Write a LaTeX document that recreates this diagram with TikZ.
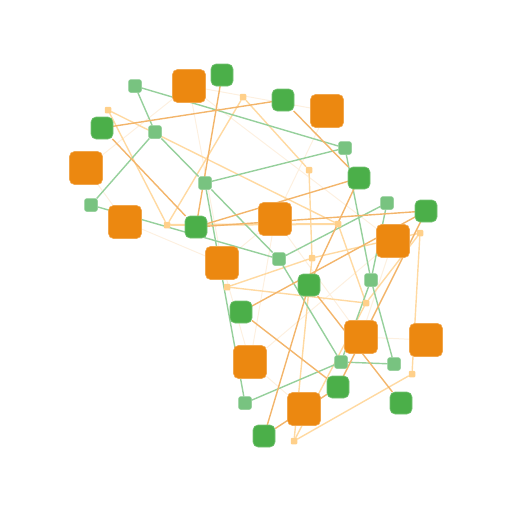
\documentclass[tikz,border=0pt]{standalone}
\usepackage{tikz}
\usetikzlibrary{backgrounds}
\definecolor{nodeorange}{HTML}{EC8810}
\definecolor{nodegreen}{HTML}{4BAF49}
\definecolor{nodemint}{HTML}{78C380}
\definecolor{nodepale}{HTML}{FFD08A}
\tikzstyle{bigbox} = [draw=nodeorange!75!white, fill=nodeorange, line width=0.6pt, rounded corners=5pt, minimum size=33pt, inner sep=0pt, outer sep=0pt]
\tikzstyle{midbox} = [draw=nodegreen!75!white, fill=nodegreen, line width=0.6pt, rounded corners=5pt, minimum size=22pt, inner sep=0pt, outer sep=0pt]
\tikzstyle{smallbox} = [draw=nodemint!80!white, fill=nodemint, line width=0.5pt, rounded corners=2.5pt, minimum size=13pt, inner sep=0pt, outer sep=0pt]
\tikzstyle{dotbox} = [fill=nodepale, rounded corners=1pt, minimum size=6.5pt, inner sep=0pt, outer sep=0pt]
\tikzstyle{faintline} = [draw, color=nodeorange!13!white, line width=1pt]
\tikzstyle{paleline} = [draw, color=nodepale!80!white, line width=1.4pt]
\tikzstyle{greenline} = [draw, color=nodemint!78!white, line width=1.4pt]
\tikzstyle{orangeline} = [draw, color=nodeorange!62!white, line width=1.4pt]

\begin{document}
\begin{tikzpicture}[x=1pt,y=-1pt]
 \useasboundingbox (0,0) rectangle (512,512);
 % large orange
 \node [bigbox] (O1) at (189,86) {};
 \node [bigbox] (O2) at (327,111) {};
 \node [bigbox] (O3) at (86,168) {};
 \node [bigbox] (O4) at (125,222) {};
 \node [bigbox] (O5) at (275,219) {};
 \node [bigbox] (O6) at (222,263) {};
 \node [bigbox] (O7) at (393,241) {};
 \node [bigbox] (O8) at (361,337) {};
 \node [bigbox] (O9) at (426,340) {};
 \node [bigbox] (O10) at (250,362) {};
 \node [bigbox] (O11) at (304,409) {};
 % green
 \node [midbox] (G1) at (222,75) {};
 \node [midbox] (G2) at (283,100) {};
 \node [midbox] (G3) at (102,128) {};
 \node [midbox] (G4) at (359,178) {};
 \node [midbox] (G5) at (196,227) {};
 \node [midbox] (G6) at (426,211) {};
 \node [midbox] (G7) at (309,285) {};
 \node [midbox] (G8) at (241,312) {};
 \node [midbox] (G9) at (338,387) {};
 \node [midbox] (G10) at (401,403) {};
 \node [midbox] (G11) at (264,436) {};
 % light green
 \node [smallbox] (L1) at (135,86) {};
 \node [smallbox] (L2) at (155,132) {};
 \node [smallbox] (L3) at (205,183) {};
 \node [smallbox] (L4) at (345,148) {};
 \node [smallbox] (L5) at (91,205) {};
 \node [smallbox] (L6) at (387,203) {};
 \node [smallbox] (L7) at (279,259) {};
 \node [smallbox] (L8) at (371,280) {};
 \node [smallbox] (L9) at (341,362) {};
 \node [smallbox] (L10) at (394,364) {};
 \node [smallbox] (L11) at (245,403) {};
 % pale dots
 \node [dotbox] (P1) at (108,110) {};
 \node [dotbox] (P2) at (243,97) {};
 \node [dotbox] (P3) at (309,170) {};
 \node [dotbox] (P4) at (167,225) {};
 \node [dotbox] (P5) at (420,233) {};
 \node [dotbox] (P6) at (312,258) {};
 \node [dotbox] (P7) at (227,287) {};
 \node [dotbox] (P8) at (366,303) {};
 \node [dotbox] (P9) at (412,374) {};
 \node [dotbox] (P10) at (294,441) {};
 \node [dotbox] (P11) at (338,224) {};
 \begin{scope}[on background layer]
 \path [faintline] (O1) -- (O3);
 \path [faintline] (O3) -- (O4);
 \path [faintline] (O4) -- (O6);
 \path [faintline] (O6) -- (O5);
 \path [faintline] (O1) -- (O2);
 \path [faintline] (O1) -- (O6);
 \path [faintline] (O1) -- (O7);
 \path [faintline] (O2) -- (O5);
 \path [faintline] (O5) -- (O10);
 \path [faintline] (O6) -- (O10);
 \path [faintline] (O5) -- (O8);
 \path [faintline] (O10) -- (O7);
 \path [faintline] (O10) -- (O11);
 \path [faintline] (O8) -- (O9);
 \path [faintline] (O7) -- (O8);
 \path [paleline] (P1) -- (P4);
 \path [paleline] (P4) -- (P2);
 \path [paleline] (P1) -- (P11);
 \path [paleline, line width=2pt] (P4) -- (P11);
 \path [paleline] (P2) -- (P3);
 \path [paleline] (P3) -- (P6);
 \path [paleline] (P6) -- (P5);
 \path [paleline] (P7) -- (P6);
 \path [paleline] (P7) -- (P8);
 \path [paleline] (P11) -- (P8);
 \path [paleline] (P8) -- (P5);
 \path [paleline] (P5) -- (P9);
 \path [paleline] (P9) -- (P10);
 \path [paleline] (P10) -- (P6);
 \path [paleline] (P10) -- (P8);
 \path [greenline] (L1) -- (L4);
 \path [greenline] (L1) -- (L2);
 \path [greenline] (L2) -- (L5);
 \path [greenline] (L2) -- (L3);
 \path [greenline] (L3) -- (L4);
 \path [greenline] (L3) -- (L7);
 \path [greenline] (L3) -- (L11);
 \path [greenline] (L5) -- (L7);
 \path [greenline] (L7) -- (L6);
 \path [greenline] (L7) -- (L9);
 \path [greenline] (L4) -- (L8);
 \path [greenline] (L8) -- (L10);
 \path [greenline] (L6) -- (L8);
 \path [greenline] (L8) -- (L9);
 \path [greenline] (L9) -- (L10);
 \path [greenline] (L9) -- (L11);
 \path [orangeline] (G3) -- (G2);
 \path [orangeline] (G3) -- (G5);
 \path [orangeline] (G1) -- (G5);
 \path [orangeline] (G2) -- (G4);
 \path [orangeline] (G4) -- (G5);
 \path [orangeline] (G5) -- (G6);
 \path [orangeline] (G4) -- (G7);
 \path [orangeline] (G7) -- (G11);
 \path [orangeline] (G8) -- (G6);
 \path [orangeline] (G7) -- (G10);
 \path [orangeline] (G8) -- (G9);
 \path [orangeline] (G9) -- (G6);
 \path [orangeline] (G11) -- (G9);
 \end{scope}
\end{tikzpicture}
\end{document}
